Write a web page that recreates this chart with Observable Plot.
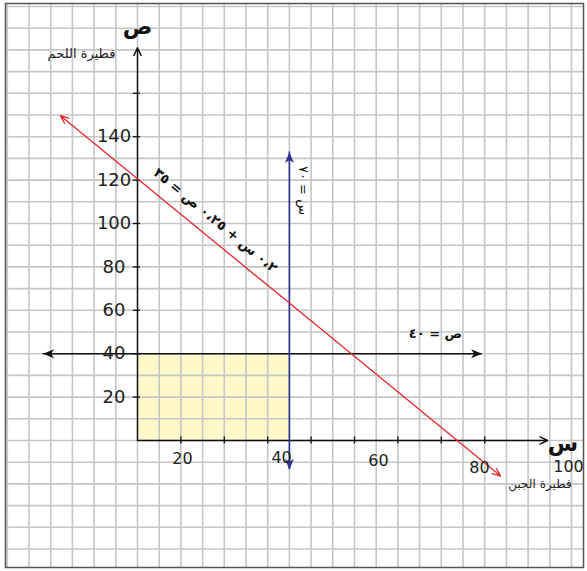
<!DOCTYPE html>
<html>
<head>
<meta charset="utf-8">
<script src="https://cdn.jsdelivr.net/npm/d3@7"></script>
<script src="https://cdn.jsdelivr.net/npm/@observablehq/plot@0.6"></script>
<style>
  html, body { margin: 0; padding: 0; background: #fff; }
  #chart svg { display: block; }
</style>
</head>
<body>
<div id="chart"></div>
<script>
// ---- data (chart units) ----
const yTicks = [20, 40, 60, 80, 100, 120, 140, 160];
const yTickLabels = ["20", "40", "60", "80", "100", "120", "140"];
const yTickLabelValues = [20, 40, 60, 80, 100, 120, 140];
const xTicks = [20, 40, 60, 80, 100, 120, 140, 160];
const xLabelText = ["20", "40", "60", "80", "100"];
const xLabelX = [20.7, 66.4, 111, 157.6, 198.6];
const xLabelY = [-8.5, -8.1, -9.6, -12.7, -12.2];

// feasible region
const regionX = [0, 70];
const regionY = [0, 40];

// constraint lines
const redX = [-35.5, 167.3];          // 0.2x + 0.25y = 35 (as drawn)
const redY = [149.7, -16.4];
const blueX = 70;                      // x = 70
const blueY = [-13.5, 132.9];
const hLineY = 40;                     // y = 40
const hLineX = [-43.5, 158.8];

// axes extent
const yAxisTop = 181;
const xAxisEnd = 189;

// labels
const lineLabels = [
  {text: "٠،٢ س + ٠،٢٥ ص = ٣٥", x: 35.9, y: 101.4, rotate: 39.5},
  {text: "س = ٧٠", x: 76.5, y: 115.2, rotate: 90},
  {text: "ص = ٤٠", x: 137.3, y: 49, rotate: 0}
];
const axisNames = [
  {text: "فطيرة اللحم", x: -25.8, y: 178.3},
  {text: "فطيرة الجبن", x: 185.5, y: -20.2}
];
const axisLetters = [
  {text: "ص", x: 0, y: 190.5},
  {text: "س", x: 196, y: -1.5}
];

// ---- geometry of the sheet ----
const W = 587, H = 571;
const ox = 137, oy = 440, k = 2.17;   // origin px and px per unit
const mL = 5, mR = 4, mT = 3, mB = 4;
const xDom = [(mL - ox) / k, (W - mR - ox) / k];
const yDom = [(oy - (H - mB)) / k, (oy - mT) / k];
const gridXs = d3.range(-60, 201, 10);
const gridYs = d3.range(-50, 201, 10);

// filled notched arrowhead with tip at origin, body pointing down (+y)
const stealth = {
  draw(ctx) {
    ctx.moveTo(0, 0);
    ctx.lineTo(4.5, 11);
    ctx.lineTo(0, 8);
    ctx.lineTo(-4.5, 11);
    ctx.closePath();
  }
};

const redMid = {x: d3.mean(redX), y: d3.mean(redY)};

const chart = Plot.plot({
  width: W, height: H,
  marginLeft: mL, marginRight: mR, marginTop: mT, marginBottom: mB,
  x: {domain: xDom, axis: null},
  y: {domain: yDom, axis: null},
  style: {background: "#fff", fontFamily: "DejaVu Sans"},
  marks: [
    // feasible region (under grid)
    Plot.rect([0], {x1: regionX[0], x2: regionX[1], y1: regionY[0], y2: regionY[1], fill: "#fff8c8"}),
    // grid paper
    Plot.gridX(gridXs, {stroke: "#c6c6c6", strokeOpacity: 1, strokeWidth: 1.6}),
    Plot.gridY(gridYs, {stroke: "#c6c6c6", strokeOpacity: 1, strokeWidth: 1.6}),
    Plot.frame({stroke: "#555", strokeWidth: 1.5}),

    // axes with open arrowheads
    Plot.arrow([0], {x1: 0, y1: 0, x2: 0, y2: yAxisTop, stroke: "#111", strokeWidth: 1.4, headLength: 9, headAngle: 50}),
    Plot.arrow([0], {x1: 0, y1: 0, x2: xAxisEnd, y2: 0, stroke: "#111", strokeWidth: 1.4, headLength: 9, headAngle: 50}),
    // tick marks
    Plot.ruleY(yTicks, {y: d => d, x1: -1.9, x2: 1.4, stroke: "#111", strokeWidth: 1.3}),
    Plot.ruleX(xTicks, {x: d => d, y1: -1.6, y2: 1.6, stroke: "#111", strokeWidth: 1.3}),

    // y = 40 line with filled arrowheads
    Plot.ruleY([hLineY], {x1: hLineX[0], x2: hLineX[1], stroke: "#111", strokeWidth: 1.4}),
    Plot.dot([0], {x: hLineX[1], y: hLineY, symbol: stealth, fill: "#111", stroke: null, r: 5, rotate: 90}),
    Plot.dot([0], {x: hLineX[0], y: hLineY, symbol: stealth, fill: "#111", stroke: null, r: 5, rotate: -90}),

    // x = 70 line (blue)
    Plot.ruleX([blueX], {y1: blueY[0], y2: blueY[1], stroke: "#2e3192", strokeWidth: 1.6}),
    Plot.dot([0], {x: blueX, y: blueY[1], symbol: stealth, fill: "#2e3192", stroke: null, r: 5, rotate: 0}),
    Plot.dot([0], {x: blueX, y: blueY[0], symbol: stealth, fill: "#2e3192", stroke: null, r: 5, rotate: 180}),

    // red constraint line with open arrowheads at both ends
    Plot.arrow([0], {x1: redMid.x, y1: redMid.y, x2: redX[0], y2: redY[0], stroke: "#e8262a", strokeWidth: 1.3, headLength: 10, headAngle: 45}),
    Plot.arrow([0], {x1: redMid.x, y1: redMid.y, x2: redX[1], y2: redY[1], stroke: "#e8262a", strokeWidth: 1.3, headLength: 10, headAngle: 45}),

    // tick labels
    Plot.text(yTickLabelValues, {x: -10.8, y: d => d, text: (d, i) => yTickLabels[i], fontSize: 18, fill: "#222", letterSpacing: "2px"}),
    Plot.text(xLabelText, {x: (d, i) => xLabelX[i], y: (d, i) => xLabelY[i], text: d => d, fontSize: 16, fill: "#222", letterSpacing: "1px"}),

    // line labels
    Plot.text([lineLabels[0]], {x: "x", y: "y", text: "text", rotate: 39.5, fontSize: 13.5, fontWeight: "bold", fill: "#111"}),
    Plot.text([lineLabels[1]], {x: "x", y: "y", text: "text", rotate: 90, fontSize: 13, fill: "#111"}),
    Plot.text([lineLabels[2]], {x: "x", y: "y", text: "text", fontSize: 13, fontWeight: "bold", fill: "#111"}),

    // axis names
    Plot.text([axisNames[0]], {x: "x", y: "y", text: "text", fontSize: 13, fill: "#222"}),
    Plot.text([axisNames[1]], {x: "x", y: "y", text: "text", fontSize: 12, fill: "#222"}),
    Plot.text(axisLetters, {x: "x", y: "y", text: "text", fontSize: 22, fontWeight: "bold", fill: "#111"})
  ]
});
document.getElementById("chart").appendChild(chart);
</script>
</body>
</html>
